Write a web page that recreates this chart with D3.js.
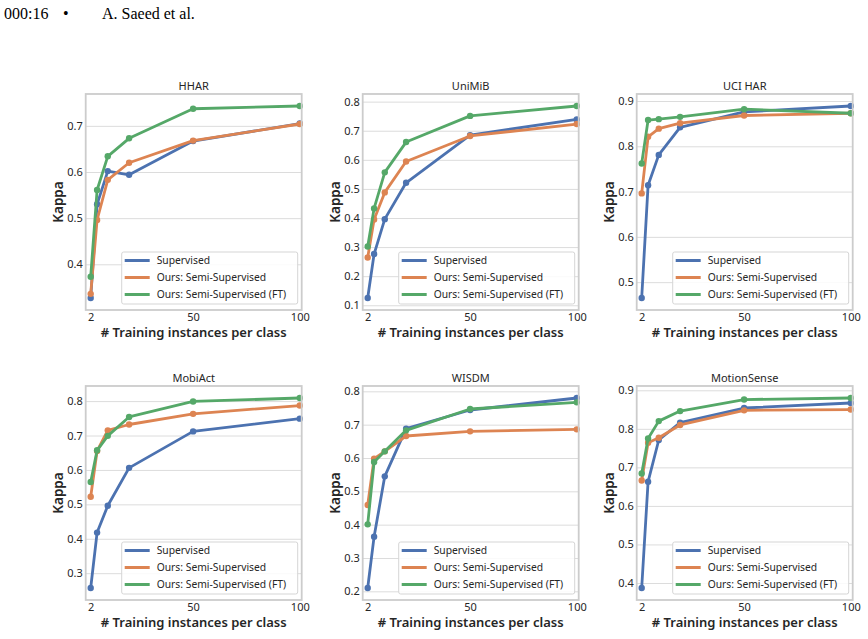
<!DOCTYPE html>
<html>
<head>
<meta charset="utf-8">
<script src="https://cdn.jsdelivr.net/npm/d3@7/dist/d3.min.js"></script>
<style>
  body { margin: 0; background: #fff; }
  svg { display: block; }
</style>
</head>
<body>
<svg id="canvas" width="868" height="639"></svg>
<script>
// x values shared by every panel
let trainSizes = [2, 5, 10, 20, 50, 100]
let xTickValues = [2, 50, 100]

let datasetNames = ['HHAR', 'UniMiB', 'UCI HAR', 'MobiAct', 'WISDM', 'MotionSense']

let seriesNames = ['Supervised', 'Ours: Semi-Supervised', 'Ours: Semi-Supervised (FT)']
let seriesColors = ['#4c72b0', '#dd8452', '#55a868']

// kappa per dataset (same order as datasetNames)
let supervised = [
  [0.327, 0.53, 0.602, 0.594, 0.667, 0.705],
  [0.125, 0.276, 0.396, 0.521, 0.685, 0.739],
  [0.465, 0.714, 0.781, 0.842, 0.876, 0.889],
  [0.257, 0.418, 0.496, 0.606, 0.712, 0.749],
  [0.21, 0.364, 0.545, 0.688, 0.744, 0.78],
  [0.387, 0.663, 0.771, 0.816, 0.854, 0.867]
]

let semiSupervised = [
  [0.336, 0.496, 0.583, 0.62, 0.668, 0.704],
  [0.264, 0.395, 0.488, 0.594, 0.682, 0.723],
  [0.696, 0.821, 0.839, 0.851, 0.868, 0.873],
  [0.522, 0.655, 0.715, 0.732, 0.763, 0.787],
  [0.459, 0.598, 0.62, 0.666, 0.68, 0.686],
  [0.666, 0.764, 0.777, 0.81, 0.848, 0.85]
]

let semiSupervisedFT = [
  [0.373, 0.561, 0.634, 0.673, 0.737, 0.743],
  [0.302, 0.433, 0.557, 0.661, 0.751, 0.785],
  [0.762, 0.858, 0.86, 0.865, 0.882, 0.873],
  [0.565, 0.657, 0.699, 0.754, 0.799, 0.809],
  [0.401, 0.588, 0.62, 0.683, 0.747, 0.767],
  [0.684, 0.775, 0.82, 0.846, 0.876, 0.88]
]

let yTickValues = [
  [0.4, 0.5, 0.6, 0.7],
  [0.1, 0.2, 0.3, 0.4, 0.5, 0.6, 0.7, 0.8],
  [0.5, 0.6, 0.7, 0.8, 0.9],
  [0.3, 0.4, 0.5, 0.6, 0.7, 0.8],
  [0.2, 0.3, 0.4, 0.5, 0.6, 0.7, 0.8],
  [0.4, 0.5, 0.6, 0.7, 0.8, 0.9]
]

let canvas = d3.select('#canvas')
let font = '"Noto Sans", "Open Sans", sans-serif'
let textColor = '#262626'

// page header
let header = canvas.append('g')
                   .attr('font-family', '"Liberation Serif", serif')
                   .attr('font-size', 16)
                   .attr('fill', '#000')
header.append('text').attr('x', 4).attr('y', 19).text('000:16')
header.append('text').attr('x', 63).attr('y', 19).text('•')
header.append('text').attr('x', 102).attr('y', 19).text('A. Saeed et al.')

let colLeft = [85.7, 362.7, 636.7]
let rowTop = [94, 386]
let rowHeight = [216, 214]
let plotWidth = 216

let drawPanel = (i) => {
  let left = colLeft[i % 3]
  let top = rowTop[Math.floor(i / 3)]
  let h = rowHeight[Math.floor(i / 3)]

  let series = [supervised[i], semiSupervised[i], semiSupervisedFT[i]]
  let all = series.flat()

  let xScale = d3.scaleLinear()
                 .domain([-0.34, 100.9])
                 .range([0, plotWidth])

  let yScale = d3.scaleLinear()
                 .domain(d3.extent(all))
                 .range([h - 12, 12])

  let panel = canvas.append('g')
                    .attr('transform', 'translate(' + left + ', ' + top + ')')
                    .attr('font-family', font)

  // grid lines
  panel.append('g')
       .call(d3.axisLeft(yScale)
               .tickValues(yTickValues[i])
               .tickSize(-plotWidth)
               .tickFormat(d3.format('.1f')))
       .call((g) => {
         g.select('.domain').remove()
         g.selectAll('.tick line').attr('stroke', '#dcdcdc').attr('stroke-width', 1)
         g.selectAll('.tick text')
          .attr('x', -3)
          .attr('fill', textColor)
          .attr('font-size', 11)
          .attr('font-family', font)
       })

  panel.append('g')
       .attr('transform', 'translate(0, ' + h + ')')
       .call(d3.axisBottom(xScale)
               .tickValues(xTickValues)
               .tickSize(0)
               .tickFormat(d3.format('d')))
       .call((g) => {
         g.select('.domain').remove()
         g.selectAll('.tick text')
          .attr('y', 3)
          .attr('dy', '0.71em')
          .attr('fill', textColor)
          .attr('font-size', 11)
          .attr('font-family', font)
       })

  let line = d3.line()
               .x((d, j) => xScale(trainSizes[j]))
               .y((d) => yScale(d))

  series.forEach((values, s) => {
    panel.append('path')
         .datum(values)
         .attr('d', line)
         .attr('fill', 'none')
         .attr('stroke', seriesColors[s])
         .attr('stroke-width', 2.8)
         .attr('stroke-linejoin', 'round')

    panel.selectAll('.dot' + s)
         .data(values)
         .enter()
         .append('circle')
         .attr('cx', (d, j) => xScale(trainSizes[j]))
         .attr('cy', (d) => yScale(d))
         .attr('r', 3.2)
         .attr('fill', seriesColors[s])
  })

  // frame
  panel.append('rect')
       .attr('width', plotWidth)
       .attr('height', h)
       .attr('fill', 'none')
       .attr('stroke', '#cccccc')
       .attr('stroke-width', 1.8)

  panel.append('text')
       .attr('x', plotWidth / 2)
       .attr('y', -4)
       .attr('text-anchor', 'middle')
       .attr('font-size', 11)
       .attr('fill', textColor)
       .text(datasetNames[i])

  panel.append('text')
       .attr('x', plotWidth / 2)
       .attr('y', h + 27)
       .attr('text-anchor', 'middle')
       .attr('font-size', 13)
       .attr('font-weight', 600)
       .attr('fill', textColor)
       .text('# Training instances per class')

  panel.append('text')
       .attr('transform', 'translate(-23, ' + (h / 2) + ') rotate(-90)')
       .attr('text-anchor', 'middle')
       .attr('font-size', 13.5)
       .attr('font-weight', 600)
       .attr('fill', textColor)
       .text('Kappa')

  // legend
  let legW = 176
  let legH = 52
  let legend = panel.append('g')
                    .attr('transform', 'translate(' + (plotWidth - 4 - legW) + ', ' + (h - 6 - legH) + ')')
  legend.append('rect')
        .attr('width', legW)
        .attr('height', legH)
        .attr('rx', 2)
        .attr('fill', 'rgba(255,255,255,0.85)')
        .attr('stroke', '#d5d5d5')
        .attr('stroke-width', 1)

  seriesNames.forEach((name, s) => {
    let y = 8.5 + s * 17
    legend.append('line')
          .attr('x1', 3)
          .attr('x2', 28)
          .attr('y1', y)
          .attr('y2', y)
          .attr('stroke', seriesColors[s])
          .attr('stroke-width', 3)
    legend.append('text')
          .attr('x', 35)
          .attr('y', y)
          .attr('dy', '0.35em')
          .attr('font-size', 10.3)
          .attr('fill', textColor)
          .text(name)
  })
}

datasetNames.forEach((name, i) => drawPanel(i))
</script>
</body>
</html>
